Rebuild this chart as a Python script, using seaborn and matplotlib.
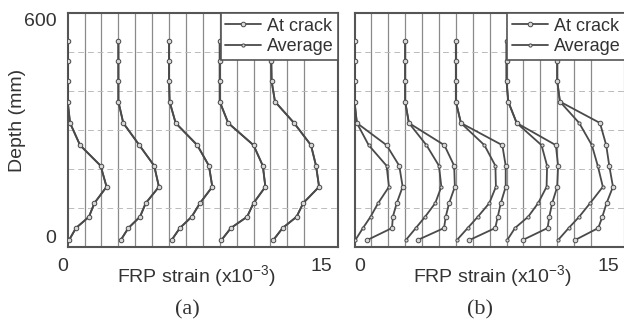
import pandas as pd
import matplotlib
matplotlib.use("Agg")
import matplotlib.pyplot as plt
import seaborn as sns
from matplotlib.lines import Line2D

sns.set_style("white")
plt.rcParams["font.family"] = ["Liberation Sans", "DejaVu Sans"]
plt.rcParams["mathtext.fontset"] = "custom"
plt.rcParams["mathtext.rm"] = "Liberation Sans"
plt.rcParams["mathtext.default"] = "regular"
TXT = "#333333"
plt.rcParams["text.color"] = TXT
plt.rcParams["axes.labelcolor"] = TXT
plt.rcParams["xtick.color"] = TXT
plt.rcParams["ytick.color"] = TXT

LINE = "#4a4a4a"
FRAME = "#555555"

# gauge depths (mm) and horizontal offset of each strain profile (x10^-3)
depth = [530, 478, 426, 373, 318, 261, 208, 154, 112, 77, 48, 17]
offsets = [0, 3, 6, 9, 12]

# panel (a): at-crack and average strains coincide
a_crack = [
    [0, 0, 0, 0, 0.14, 0.73, 1.95, 2.30, 1.58, 1.26, 0.49, 0.08],
    [0, 0, 0, 0, 0.29, 1.24, 2.12, 2.40, 1.62, 1.28, 0.59, 0.14],
    [0, 0, 0, 0.03, 0.39, 1.67, 2.36, 2.56, 1.83, 1.34, 0.64, 0.15],
    [0, 0, 0, 0, 0.50, 2.00, 2.55, 2.70, 2.00, 1.62, 0.66, 0.10],
    [0, 0.05, 0.07, 0.27, 1.40, 2.40, 2.70, 2.88, 1.94, 1.55, 0.72, 0.17],
]
a_avg = a_crack

# panel (b)
b_crack = [
    [0, 0, 0, 0, 0.14, 1.90, 2.65, 2.85, 2.50, 2.27, 2.22, 0.75],
    [0, 0, 0, 0, 0.22, 2.32, 2.90, 2.94, 2.60, 2.40, 2.30, 0.73],
    [0, 0, 0, 0, 0.30, 2.75, 2.95, 2.95, 2.66, 2.48, 2.33, 0.80],
    [0, 0, 0, 0.10, 0.60, 2.92, 3.05, 3.00, 2.70, 2.53, 2.43, 0.95],
    [0, 0, 0, 0.16, 2.53, 2.90, 3.08, 3.30, 2.92, 2.67, 2.43, 1.05],
]
b_avg = [
    [0, 0, 0, 0, 0.14, 0.84, 1.90, 2.04, 1.40, 0.95, 0.50, 0.05],
    [0, 0, 0, 0, 0.22, 1.26, 2.00, 2.14, 1.78, 1.18, 0.63, 0.04],
    [0, 0, 0, 0, 0.30, 1.69, 2.34, 2.37, 1.98, 1.30, 0.70, 0.06],
    [0, 0, 0, 0.10, 0.60, 2.07, 2.40, 2.37, 1.87, 1.28, 0.50, 0.04],
    [0, 0, 0, 0.16, 1.30, 2.05, 2.40, 2.70, 1.95, 1.30, 0.68, 0.05],
]

rows = []
for panel, data in [("a", {"At crack": a_crack, "Average": a_avg}),
                    ("b", {"At crack": b_crack, "Average": b_avg})]:
    for series, profiles in data.items():
        for k, vals in enumerate(profiles):
            for d, v in zip(depth, vals):
                rows.append({"panel": panel, "series": series, "profile": k,
                             "depth": d, "x": offsets[k] + v})
df = pd.DataFrame(rows)

styles = {"At crack": dict(markersize=3.3, zorder=4),
          "Average": dict(markersize=2.3, zorder=3)}
MFC = "#d8d8d8"

fig = plt.figure(figsize=(6.24, 3.24), dpi=100)
W, H = 624, 324
ax_a = fig.add_axes([67.7 / W, 1 - 246.7 / H, 270.3 / W, 233.4 / H])
ax_b = fig.add_axes([354.5 / W, 1 - 246.7 / H, 270.3 / W, 233.4 / H])


def draw(ax, panel):
    sub = df[df["panel"] == panel]
    for series in ["Average", "At crack"]:
        s = sub[sub["series"] == series]
        st = styles[series]
        sns.lineplot(data=s, x="x", y="depth", units="profile", estimator=None,
                     sort=False, color=LINE, lw=1.3, marker="o",
                     markersize=st["markersize"], markerfacecolor=MFC,
                     markeredgecolor=LINE, markeredgewidth=0.7,
                     zorder=st["zorder"], legend=False, ax=ax)
    ax.set_xlim(0, 16)
    ax.set_ylim(0, 600)
    ax.set_xticks([0, 15])
    ax.set_xticklabels(["0", "15"], fontsize=14)
    ax.set_xticks(range(1, 16), minor=True)
    ax.set_yticks([100, 200, 300, 400, 500], minor=True)
    ax.grid(False)
    ax.grid(which="minor", axis="x", color="#8a8a8a", lw=0.9, ls="-", zorder=1)
    ax.grid(which="minor", axis="y", color="#bbbbbb", lw=0.7, ls=(0, (6, 4)), zorder=1)
    ax.tick_params(which="both", length=0, pad=8)
    for sp in ax.spines.values():
        sp.set_color(FRAME)
        sp.set_linewidth(1.5)
    ax.set_xlabel("FRP strain (x10$^{-3}$)", fontsize=14, va="center")
    ax.set_ylabel("")
    handles = [Line2D([], [], color=LINE, lw=1.3, marker="o", ms=styles[s]["markersize"],
                      mfc=MFC, mec=LINE, mew=0.7) for s in ["At crack", "Average"]]
    leg = ax.legend(handles, ["At crack", "Average"], loc="upper right", fontsize=13,
                    frameon=True, fancybox=False, edgecolor=FRAME, framealpha=1,
                    borderaxespad=0, borderpad=0.25, handlelength=2.0,
                    handletextpad=0.3, labelspacing=0.2)
    leg.get_frame().set_linewidth(1.2)
    leg.set_zorder(10)


draw(ax_a, "a")
draw(ax_b, "b")

# panel (a) axis text
ax_a.set_yticks([0, 600])
ax_a.set_yticklabels(["0", "600"], fontsize=14)
ylabs = ax_a.get_yticklabels()
ylabs[0].set_va("bottom")
ylabs[1].set_va("top")
ax_a.get_xticklabels()[0].set_ha("right")
ax_a.set_ylabel("Depth (mm)", fontsize=14, va="center")
ax_a.yaxis.set_label_coords(-0.184, 0.543)
ax_a.xaxis.set_label_coords(0.475, -0.1255)

# panel (b) axis text
ax_b.set_yticks([0, 600])
ax_b.set_yticklabels([])
ax_b.get_xticklabels()[0].set_ha("left")
ax_b.xaxis.set_label_coords(0.509, -0.1255)

fig.text(187 / W, 1 - 310 / H, "(a)", family="Liberation Serif", fontsize=16,
         ha="center", va="center")
fig.text(480 / W, 1 - 310 / H, "(b)", family="Liberation Serif", fontsize=16,
         ha="center", va="center")

fig.savefig("out.png", dpi=100)
